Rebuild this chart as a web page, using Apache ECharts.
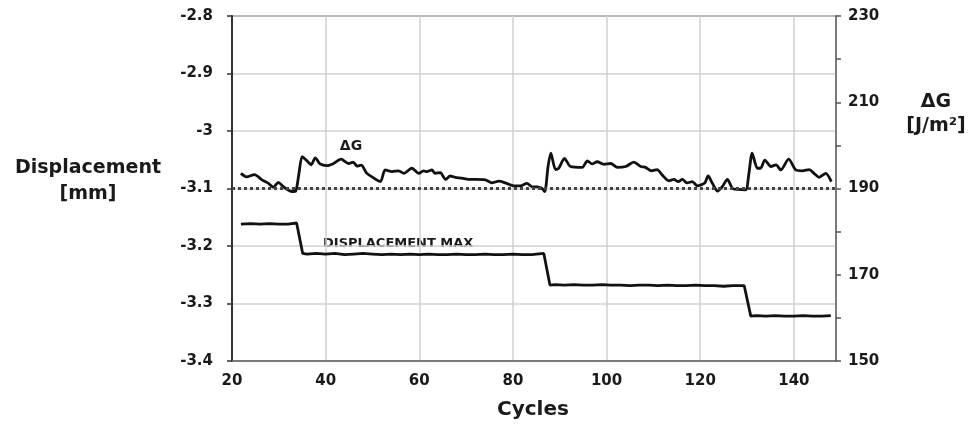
<!DOCTYPE html>
<html>
<head>
<meta charset="utf-8">
<script src="https://cdn.jsdelivr.net/npm/echarts@6/dist/echarts.min.js"></script>
<style>
html,body{margin:0;padding:0;background:#fff;}
#chart{width:977px;height:431px;}
</style>
</head>
<body>
<div id="chart"></div>
<script>
// ---- data ----
const dgCycles = [21.9,23.1,24.8,26.4,27.8,28.8,29.9,31.0,32.8,33.6,34.3,35.0,36.2,36.9,37.8,38.8,40.3,41.7,43.3,44.9,45.9,46.7,47.6,48.8,49.9,51.7,52.7,54.2,55.6,56.7,58.4,59.9,60.9,61.6,62.7,63.4,64.5,65.6,66.6,67.7,69.1,70.5,72.0,74.1,75.5,77.0,78.4,80.2,81.6,83.0,84.1,85.2,86.2,86.8,87.5,88.1,89.1,89.8,91.0,92.3,94.8,95.9,96.9,98.0,99.4,100.9,102.3,104.1,105.8,107.3,108.3,109.6,110.8,111.9,113.3,114.4,115.3,116.2,117.2,118.3,119.4,120.1,121.0,121.7,122.6,123.7,124.7,125.8,126.9,128.0,129.7,130.4,131.1,132.2,132.9,133.8,135.1,136.2,137.2,138.9,140.4,141.8,143.3,144.3,145.4,146.8,148.0];
const dgValues = [193.5,192.7,193.2,192.0,191.2,190.3,191.4,190.4,189.3,189.4,193.5,197.4,196.2,195.5,197.1,195.7,195.3,195.8,196.8,195.8,196.1,195.2,195.4,193.5,192.7,191.6,194.3,193.9,194.1,193.5,194.7,193.5,194.1,193.9,194.3,193.5,193.7,192.1,192.9,192.6,192.4,192.1,192.1,192.0,191.3,191.7,191.3,190.6,190.6,191.2,190.4,190.4,190.0,189.3,195.1,198.2,194.4,194.7,197.0,195.1,194.9,196.4,195.7,196.2,195.6,195.8,194.9,195.1,196.1,195.1,194.9,194.1,194.4,193.1,191.8,192.1,191.6,192.1,191.3,191.6,190.6,190.8,191.3,192.9,191.2,189.4,190.4,192.1,190.0,189.8,189.7,193.5,198.2,194.7,194.7,196.6,195.1,195.5,194.3,196.8,194.3,194.1,194.4,193.5,192.6,193.5,191.6];

const dispCycles = [21.9,24,26,28,30,32,33.8,35.1,36,38,40,42,44,46,48,50,52,54,56,58,60,62,64,66,68,70,72,74,76,78,80,82,84,86.6,87.9,89,91,93,95,97,99,101,103,105,107,109,111,113,115,117,119,121,123,125,127,129.4,130.8,132,134,136,138,140,142,144,146,147.9];
const dispValues = [-3.162,-3.161,-3.162,-3.161,-3.162,-3.162,-3.160,-3.213,-3.214,-3.213,-3.214,-3.213,-3.215,-3.214,-3.213,-3.214,-3.215,-3.214,-3.215,-3.214,-3.215,-3.214,-3.215,-3.215,-3.214,-3.215,-3.215,-3.214,-3.215,-3.215,-3.214,-3.215,-3.215,-3.213,-3.268,-3.267,-3.268,-3.267,-3.268,-3.268,-3.267,-3.268,-3.268,-3.269,-3.268,-3.268,-3.269,-3.268,-3.269,-3.269,-3.268,-3.269,-3.269,-3.270,-3.269,-3.269,-3.322,-3.321,-3.322,-3.321,-3.322,-3.322,-3.321,-3.322,-3.322,-3.321];

const xMin = 20, xMax = 149, xStep = 20;
const leftMin = -3.4, leftMax = -2.8, leftStep = 0.1;
const rightMin = 150, rightMax = 230, rightStep = 10, rightLabelStep = 20;
const thresholdDG = 190;

const dgData = dgCycles.map((c, i) => [c, dgValues[i]]);
const dispData = dispCycles.map((c, i) => [c, dispValues[i]]);

const FONT = 'DejaVu Sans';
const chart = echarts.init(document.getElementById('chart'));
chart.setOption({
  animation: false,
  backgroundColor: '#fff',
  grid: { left: 232, right: 141, top: 16, bottom: 70, show: true, borderColor: '#444', borderWidth: 1.5, backgroundColor: 'transparent' },
  xAxis: {
    type: 'value', min: xMin, max: xMax, interval: xStep,
    axisLine: { show: true, lineStyle: { color: '#666', width: 1.5 } },
    axisTick: { show: false },
    splitLine: { show: true, lineStyle: { color: '#d0d0d0', width: 1.5 } },
    axisLabel: {
      margin: 13, color: '#1a1a1a', fontFamily: FONT, fontWeight: 'bold', fontSize: 15,
      formatter: v => ((v - xMin) % xStep === 0 ? String(v) : '')
    }
  },
  yAxis: [
    {
      type: 'value', min: leftMin, max: leftMax, interval: leftStep, position: 'left',
      axisLine: { show: true, lineStyle: { color: '#333', width: 2 } },
      axisTick: { show: true, inside: false, length: 5, lineStyle: { color: '#333', width: 1.5 } },
      splitLine: { show: true, lineStyle: { color: '#d0d0d0', width: 1.5 } },
      axisLabel: { margin: 19, color: '#1a1a1a', fontFamily: FONT, fontWeight: 'bold', fontSize: 15,
        formatter: v => String(Math.round(v * 10) / 10) }
    },
    {
      type: 'value', min: rightMin, max: rightMax, interval: rightStep, position: 'right',
      axisLine: { show: true, lineStyle: { color: '#666', width: 1.5 } },
      axisTick: { show: true, inside: false, length: 5, lineStyle: { color: '#555', width: 1.5 } },
      splitLine: { show: false },
      axisLabel: { margin: 12, color: '#1a1a1a', fontFamily: FONT, fontWeight: 'bold', fontSize: 15,
        formatter: v => ((v - rightMin) % rightLabelStep === 0 ? String(v) : '') }
    }
  ],
  series: [
    {
      name: 'ΔG', type: 'line', yAxisIndex: 1, data: dgData, showSymbol: false, smooth: 0.25,
      lineStyle: { color: '#111', width: 2.8 },
      markLine: {
        silent: true, symbol: 'none', label: { show: false },
        lineStyle: { color: '#444', width: 3, type: [3, 3] },
        data: [{ yAxis: thresholdDG }]
      },
      z: 3
    },
    {
      name: 'DISPLACEMENT MAX', type: 'line', yAxisIndex: 0, data: dispData, showSymbol: false,
      lineStyle: { color: '#111', width: 2.8 }, z: 3
    }
  ],
  graphic: [
    { type: 'text', x: 88, y: 155, style: { text: 'Displacement\n[mm]', fill: '#1a1a1a', font: 'bold 19px "DejaVu Sans"', textAlign: 'center', lineHeight: 26 } },
    { type: 'text', x: 936, y: 90, style: { text: 'ΔG\n[J/m²]', fill: '#1a1a1a', font: 'bold 19px "DejaVu Sans"', textAlign: 'center', lineHeight: 24 } },
    { type: 'text', x: 533, y: 400, style: { text: 'Cycles', fill: '#1a1a1a', font: 'bold 20px "DejaVu Sans"', textAlign: 'center' } },
    { type: 'text', x: 351, y: 139, style: { text: 'ΔG', fill: '#1a1a1a', font: 'bold 14px "DejaVu Sans"', textAlign: 'center' } },
    { type: 'text', x: 323, y: 237, style: { text: 'DISPLACEMENT MAX', fill: '#1a1a1a', font: 'bold 13px "DejaVu Sans"', textAlign: 'left' } }
  ]
});
</script>
</body>
</html>
